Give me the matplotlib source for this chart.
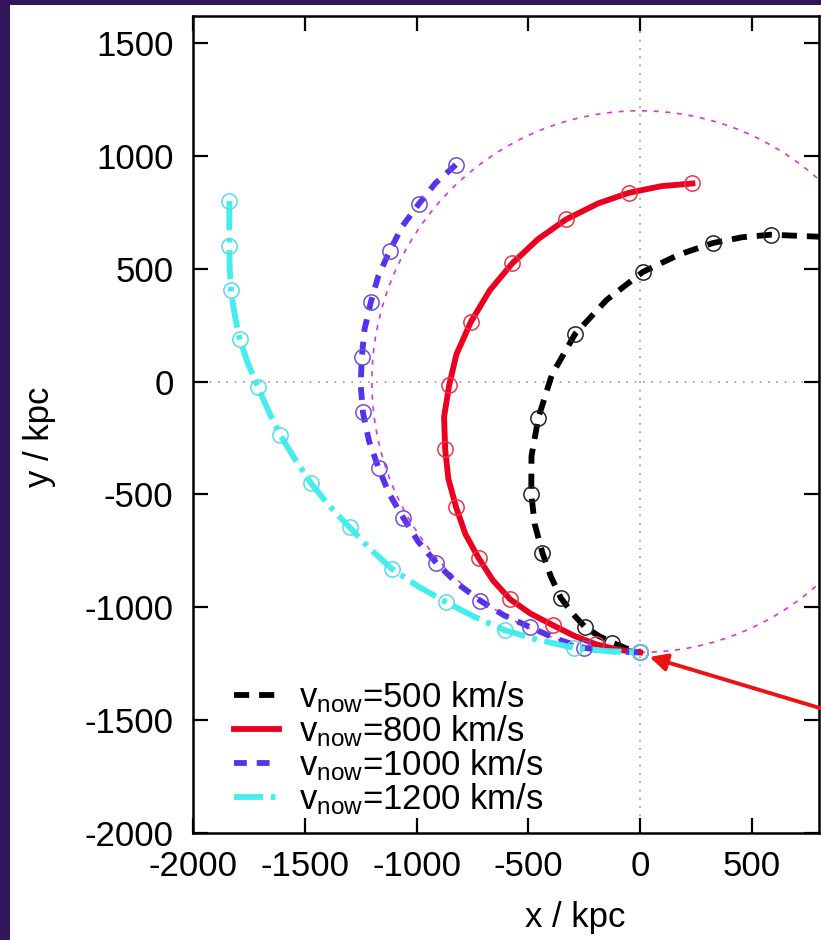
import matplotlib
matplotlib.use("Agg")
import matplotlib.pyplot as plt
from matplotlib.patches import Circle

plt.rcParams['font.family'] = ['Liberation Sans', 'DejaVu Sans']
plt.rcParams['mathtext.fontset'] = 'custom'
plt.rcParams['mathtext.rm'] = 'Liberation Sans'
plt.rcParams['mathtext.it'] = 'Liberation Sans'
plt.rcParams['axes.unicode_minus'] = False

# orbit paths (kpc); every second point carries a circle marker
black_x = [850, 586, 458, 325, 172, 12, -150, -291, -395, -455, -486, -487, -472, -437,
           -400, -355, -302, -246, -185, -124, -62, 0]
black_y = [640, 651, 640, 614, 562, 486, 362, 211, 30, -159, -330, -497, -630, -759,
           -862, -958, -1028, -1088, -1127, -1157, -1182, -1200]

red_x = [234, 95, -49, -187, -331, -456, -571, -673, -757, -822, -854, -877, -872, -858,
         -823, -782, -723, -659, -581, -490, -391, -296, -197, -98, 0]
red_y = [878, 866, 837, 790, 719, 632, 525, 404, 265, 120, -15, -157, -299, -430,
         -557, -675, -781, -880, -965, -1028, -1079, -1126, -1164, -1188, -1200]

blue_x = [-824, -915, -991, -1064, -1121, -1171, -1205, -1233, -1245, -1250, -1240, -1213,
          -1170, -1122, -1059, -992, -912, -820, -716, -608, -492, -375, -253, -127, 0]
blue_y = [961, 880, 786, 688, 578, 468, 351, 231, 108, -14, -136, -262,
          -383, -498, -604, -710, -803, -893, -970, -1036, -1088, -1140, -1179, -1195, -1200]

cyan_x = [-1837, -1838, -1837, -1836, -1830, -1814, -1792, -1755, -1710, -1664, -1610, -1546,
          -1473, -1391, -1300, -1208, -1110, -992, -868, -738, -604, -453, -298, -149, 0]
cyan_y = [800, 700, 601, 503, 405, 298, 191, 82, -22, -127, -236, -340,
          -449, -550, -645, -741, -830, -908, -977, -1044, -1102, -1145, -1179, -1194, -1200]

labels = ['v$_{\\mathrm{now}}$=500 km/s', 'v$_{\\mathrm{now}}$=800 km/s',
          'v$_{\\mathrm{now}}$=1000 km/s', 'v$_{\\mathrm{now}}$=1200 km/s']
circle_r = 1200
arrow_head = (42, -1220)
arrow_tail = (850, -1460)

fig = plt.figure(figsize=(8.21, 9.40), dpi=100)
fig.patch.set_facecolor('#33165a')

# white panel behind the plot
bg = fig.add_axes([10 / 821, 0, 1 - 10 / 821, 1 - 5 / 940], zorder=-5)
bg.set_facecolor('white')
bg.set_xticks([])
bg.set_yticks([])
for s in bg.spines.values():
    s.set_visible(False)

ax = fig.add_axes([193 / 821, 107 / 940, 626 / 821, 817 / 940])
ax.set_xlim(-2000, 800)
ax.set_ylim(-2000, 1620)

ax.axhline(0, color='#999999', lw=1.2, ls=(0, (1, 4)), zorder=1)
ax.axvline(0, color='#999999', lw=1.2, ls=(0, (1, 4)), zorder=1)
ax.add_patch(Circle((0, 0), circle_r, fill=False, edgecolor='#dd33dd', lw=1.2,
                    ls=(0, (3, 4)), zorder=1))

ms = 11
lw = 4.2
ax.plot(black_x, black_y, color='black', lw=lw, dashes=(2.6, 1.7), label=labels[0], zorder=2)
ax.plot(black_x, black_y, ls='none', marker='o', markevery=(1, 2), ms=ms, mfc='none',
        mec='#222222', mew=1.1, zorder=2)

ax.plot(red_x, red_y, color='#ec0020', lw=lw, label=labels[1], zorder=3)
ax.plot(red_x, red_y, ls='none', marker='o', markevery=2, ms=ms, mfc='none',
        mec='#ee3344', mew=1.1, zorder=3)

ax.plot(blue_x, blue_y, color='#5533ee', lw=lw, dashes=(2.2, 1.7), label=labels[2], zorder=4)
ax.plot(blue_x, blue_y, ls='none', marker='o', markevery=2, ms=ms, mfc='none',
        mec='#6a4fdc', mew=1.1, zorder=4)

ax.plot(cyan_x, cyan_y, color='#44eeee', lw=lw, dashes=(5, 1.3, 0.8, 1.3), label=labels[3], zorder=5)
ax.plot(cyan_x, cyan_y, ls='none', marker='o', markevery=2, ms=ms, mfc='none',
        mec='#55dde8', mew=1.1, zorder=5)

ax.annotate('', xy=arrow_head, xytext=arrow_tail, annotation_clip=False,
            arrowprops=dict(arrowstyle='-|>', color='#ee1111', lw=2.8, mutation_scale=26,
                            shrinkA=0, shrinkB=0), zorder=6)

ax.set_xticks([-2000, -1500, -1000, -500, 0, 500])
ax.set_yticks([-2000, -1500, -1000, -500, 0, 500, 1000, 1500])
ax.tick_params(direction='in', length=11, width=1.6, labelsize=25, top=True, right=True)
ax.tick_params(axis='x', pad=12)
ax.tick_params(axis='y', pad=14)
for s in ax.spines.values():
    s.set_linewidth(1.8)

fig.text(575 / 821, 1 - 917 / 940, 'x / kpc', fontsize=25, ha='center', va='center')
fig.text(40 / 821, 1 - 437 / 940, 'y / kpc', fontsize=25, ha='center', va='center', rotation=90)

leg = ax.legend(loc='lower left', bbox_to_anchor=(0.066, 0.02), frameon=False, fontsize=25,
                handlelength=1.3, handletextpad=0.55, labelspacing=-0.05, borderaxespad=0,
                borderpad=0)

fig.savefig('out.png', dpi=100, facecolor=fig.get_facecolor())
